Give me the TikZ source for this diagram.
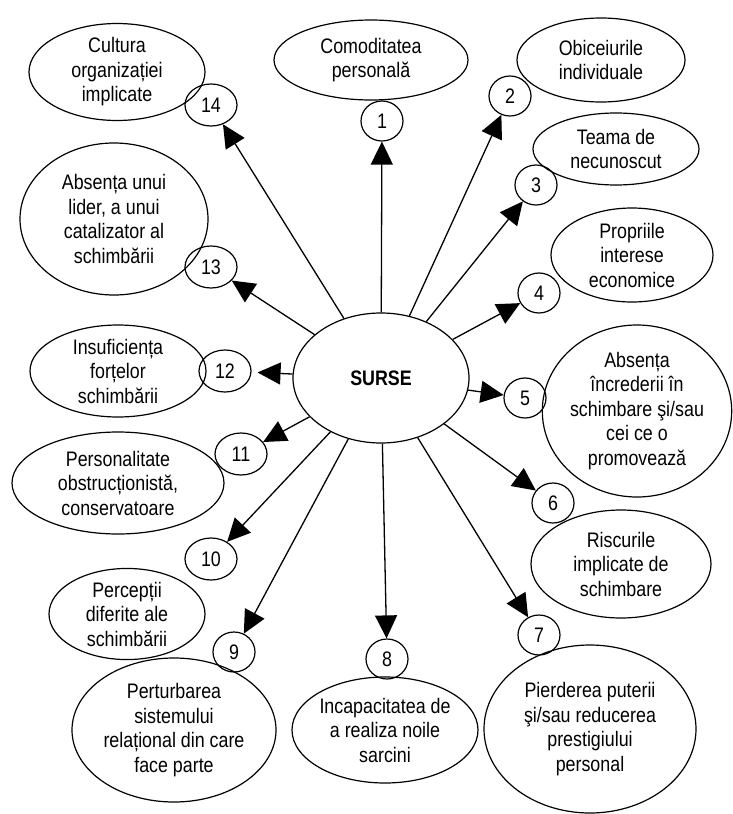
\documentclass[tikz,border=0pt]{standalone}
\usepackage{fontspec}
\setmainfont{Liberation Sans}[FakeStretch=0.85]
\usetikzlibrary{shapes.geometric,arrows.meta}

\tikzset{
  cauza/.style={draw,ellipse,inner sep=0pt,align=center,line width=1.2pt,
    font=\fontsize{21}{24.5}\selectfont},
  nr/.style={draw,ellipse,inner sep=0pt,minimum width=42pt,minimum height=40pt,
    line width=1.2pt,font=\fontsize{21}{24}\selectfont},
  nrr/.style={nr,minimum width=52pt,minimum height=42pt}
}

\begin{document}
\begin{tikzpicture}[x=1pt,y=-1pt,line width=1.3pt,>={Triangle[length=23pt,width=22pt]}]
        \useasboundingbox (0,0) rectangle (732,814);
        % sursa centrala
        \node[cauza,minimum width=176pt,minimum height=130pt,font=\fontsize{21}{24}\selectfont\bfseries] (surse) at (381,378) {SURSE};
        % cauzele
        \node[cauza,minimum width=194pt,minimum height=80pt] (e1) at (371,60) {Comoditatea\\personală};
        \node[cauza,minimum width=168pt,minimum height=84pt] (e2) at (601,60) {Obiceiurile\\individuale};
        \node[cauza,minimum width=166pt,minimum height=72pt] (e3) at (616,149) {Teama de\\necunoscut};
        \node[cauza,minimum width=162pt,minimum height=94pt] (e4) at (632,255) {Propriile\\interese\\economice};
        \node[cauza,minimum width=182pt,minimum height=172pt] (e5) at (637,411) {Absența\\încrederii în\\schimbare şi/sau\\cei ce o\\promovează};
        \node[cauza,minimum width=180pt,minimum height=108pt] (e6) at (621,564) {Riscurile\\implicate de\\schimbare};
        \node[cauza,minimum width=212pt,minimum height=168pt] (e7) at (590,729) {Pierderea puterii\\şi/sau reducerea\\prestigiului\\personal};
        \node[cauza,minimum width=186pt,minimum height=106pt] (e8) at (385,730) {Incapacitatea de\\a realiza noile\\sarcini};
        \node[cauza,minimum width=204pt,minimum height=144pt] (e9) at (174,730) {Perturbarea\\sistemului\\relațional din care\\face parte};
        \node[cauza,minimum width=156pt,minimum height=82pt] (e10) at (127,614) {Percepții\\diferite ale\\schimbării};
        \node[cauza,minimum width=212pt,minimum height=102pt] (e11) at (118,483) {Personalitate\\obstrucționistă,\\conservatoare};
        \node[cauza,minimum width=176pt,minimum height=92pt] (e12) at (118,371) {Insuficiența\\forțelor\\schimbării};
        \node[cauza,minimum width=188pt,minimum height=152pt] (e13) at (114,219) {Absența unui\\lider, a unui\\catalizator al\\schimbării};
        \node[cauza,minimum width=176pt,minimum height=92pt] (e14) at (117,72) {Cultura\\organizației\\implicate};
        % numerele
        \node[nr] (c1) at (382,121) {1};
        \node[nr] (c2) at (510,96) {2};
        \node[nr] (c3) at (536,185) {3};
        \node[nr] (c4) at (539,293) {4};
        \node[nr] (c5) at (525,398) {5};
        \node[nr] (c6) at (553,503) {6};
        \node[nr] (c7) at (539,635) {7};
        \node[nr] (c8) at (387,659) {8};
        \node[nr] (c9) at (234,652) {9};
        \node[nrr] (c10) at (211,559) {10};
        \node[nrr] (c11) at (241,454) {11};
        \node[nrr] (c12) at (225,371) {12};
        \node[nrr] (c13) at (211,267) {13};
        \node[nrr] (c14) at (211,105) {14};
        % sagetile
        \draw[->] (surse) -- (c1);
        \draw[->] (surse) -- (c2);
        \draw[->] (surse) -- (c3);
        \draw[->] (surse) -- (c4);
        \draw[->] (surse) -- (c5);
        \draw[->] (surse) -- (c6);
        \draw[->] (surse) -- (c7);
        \draw[->] (surse) -- (c8);
        \draw[->] (surse) -- (c9);
        \draw[->] (surse) -- (c10);
        \draw[->] (surse) -- (c11);
        \draw[->,shorten >=6pt] (surse) -- (c12);
        \draw[->] (surse) -- (c13);
        \draw[->] (surse) -- (c14);
    \end{tikzpicture}
\end{document}
